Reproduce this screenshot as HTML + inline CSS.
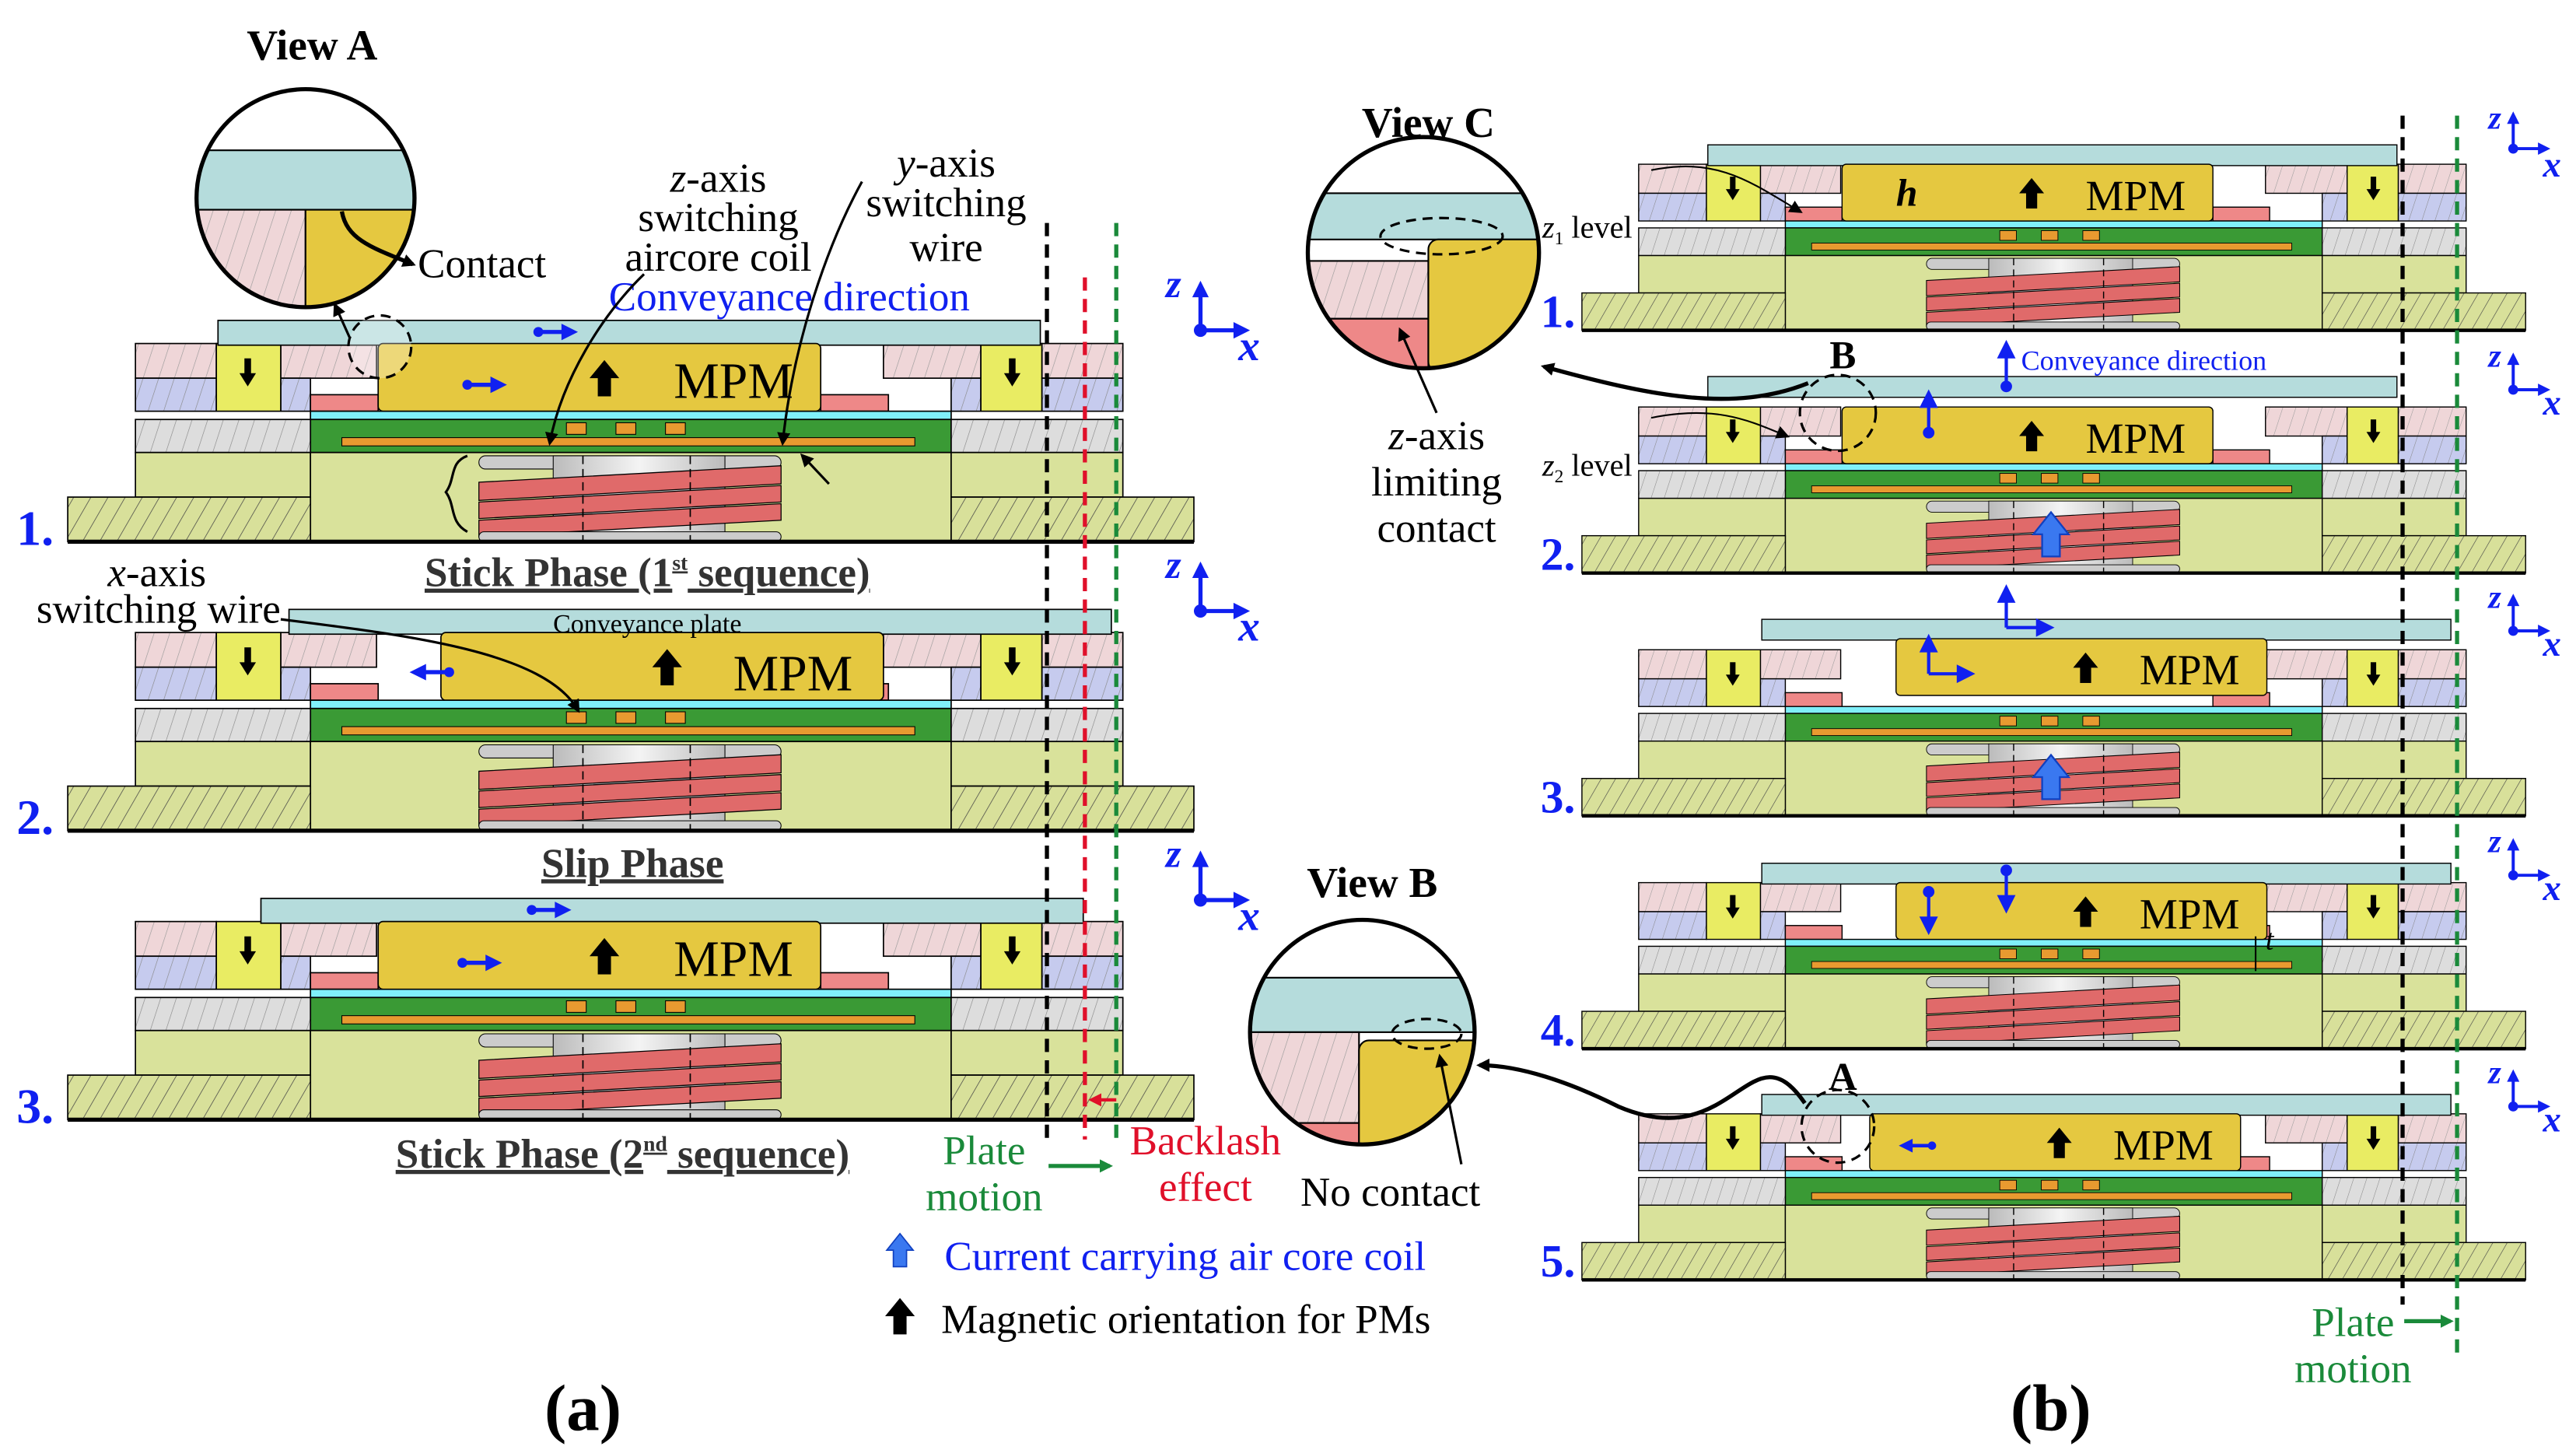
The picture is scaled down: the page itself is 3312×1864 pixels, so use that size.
<!DOCTYPE html>
<html><head><meta charset="utf-8"><style>
html,body{margin:0;padding:0;background:#fff}
svg{display:block}
svg, svg text{font-family:"Liberation Serif","Times New Roman",serif}
</style></head><body>
<svg width="3312" height="1864" viewBox="0 0 1560 878" xmlns="http://www.w3.org/2000/svg" font-family="Liberation Serif, serif">
<defs>
<pattern id="hp" width="9" height="9" patternUnits="userSpaceOnUse" patternTransform="rotate(18)"><rect width="9" height="9" fill="#efd6d8"/><line x1="0" y1="0" x2="0" y2="9" stroke="#999" stroke-width="0.6"/></pattern>
<pattern id="hb" width="9" height="9" patternUnits="userSpaceOnUse" patternTransform="rotate(18)"><rect width="9" height="9" fill="#c6cbee"/><line x1="0" y1="0" x2="0" y2="9" stroke="#888" stroke-width="0.6"/></pattern>
<pattern id="hg" width="9" height="9" patternUnits="userSpaceOnUse" patternTransform="rotate(18)"><rect width="9" height="9" fill="#dddddd"/><line x1="0" y1="0" x2="0" y2="9" stroke="#888" stroke-width="0.6"/></pattern>
<pattern id="ho" width="9" height="9" patternUnits="userSpaceOnUse" patternTransform="rotate(30)"><rect width="9" height="9" fill="#d8e09a"/><line x1="0" y1="0" x2="0" y2="9" stroke="#444" stroke-width="0.7"/></pattern>
<linearGradient id="cg" x1="0" x2="1"><stop offset="0" stop-color="#bbb"/><stop offset="0.5" stop-color="#f4f4f4"/><stop offset="1" stop-color="#bbb"/></linearGradient>
<marker id="ah" markerWidth="8" markerHeight="8" refX="6" refY="4" orient="auto" markerUnits="userSpaceOnUse"><path d="M0,0 L8,4 L0,8 Z" fill="#000"/></marker>
<marker id="ag" markerWidth="8" markerHeight="8" refX="6" refY="4" orient="auto" markerUnits="userSpaceOnUse"><path d="M0,0 L8,4 L0,8 Z" fill="#1a8a3a"/></marker>
<marker id="ar" markerWidth="8" markerHeight="8" refX="6" refY="4" orient="auto" markerUnits="userSpaceOnUse"><path d="M0,0 L8,4 L0,8 Z" fill="#e0102a"/></marker>
<g id="dn"><rect x="-2" y="-9" width="4" height="10" fill="#000"/><path d="M-5,0 L5,0 L0,8 Z" fill="#000"/></g>
<g id="up"><path d="M-9,0 L0,-11 L9,0 Z" fill="#000"/><rect x="-4" y="-1" width="8" height="12" fill="#000"/></g>
<g id="base" stroke="#000" stroke-width="0.8">
<rect x="82" y="208" width="49" height="21" fill="url(#hp)"/>
<rect x="170" y="208" width="58" height="21" fill="url(#hp)"/>
<rect x="82" y="229" width="49" height="20" fill="url(#hb)"/>
<rect x="170" y="229" width="18" height="20" fill="url(#hb)"/>
<rect x="131" y="208" width="39" height="41" fill="#e9ec63"/>
<use href="#dn" x="150" y="226" stroke="none"/>
<rect x="188" y="239" width="41" height="10" fill="#ee8888"/>
<rect x="535" y="208" width="59" height="21" fill="url(#hp)"/>
<rect x="497" y="239" width="41" height="10" fill="#ee8888"/>
<rect x="576" y="229" width="18" height="20" fill="url(#hb)"/>
<rect x="594" y="208" width="37" height="41" fill="#e9ec63"/>
<use href="#dn" x="613" y="226" stroke="none"/>
<rect x="631" y="208" width="49" height="21" fill="url(#hp)"/>
<rect x="631" y="229" width="49" height="20" fill="url(#hb)"/>
<rect x="188" y="249" width="388" height="5" fill="#80f0fa"/>
<rect x="188" y="254" width="388" height="20" fill="#3a9a35"/>
<rect x="207" y="265" width="347" height="5" fill="#e89a30" stroke-width="0.5"/>
<rect x="343" y="256" width="12" height="7" fill="#e89a30" stroke-width="0.5"/>
<rect x="373" y="256" width="12" height="7" fill="#e89a30" stroke-width="0.5"/>
<rect x="403" y="256" width="12" height="7" fill="#e89a30" stroke-width="0.5"/>
<rect x="82" y="254" width="106" height="20" fill="url(#hg)"/>
<rect x="576" y="254" width="104" height="20" fill="url(#hg)"/>
<rect x="82" y="274" width="106" height="27" fill="#d9e29b"/>
<rect x="188" y="274" width="388" height="54" fill="#d9e29b"/>
<rect x="576" y="274" width="104" height="27" fill="#d9e29b"/>
<rect x="41" y="301" width="147" height="27" fill="url(#ho)"/>
<rect x="576" y="301" width="147" height="27" fill="url(#ho)"/>
<rect x="290" y="276" width="183" height="8" rx="4" fill="#ccc" stroke-width="0.5"/>
<rect x="335" y="276" width="104" height="52" fill="url(#cg)" stroke-width="0.5"/>
<g fill="#e06a6a" stroke-width="0.6">
<path d="M290,292 L473,282 L473,293 L290,303 Z"/>
<path d="M290,304 L473,294 L473,304 L290,314 Z"/>
<path d="M290,315 L473,305 L473,315 L290,325 Z"/>
</g>
<rect x="290" y="322" width="183" height="6" rx="3" fill="#ccc" stroke-width="0.5"/>
<line x1="353" y1="276" x2="353" y2="328" stroke-dasharray="5,3"/>
<line x1="418" y1="276" x2="418" y2="328" stroke-dasharray="5,3"/>
<line x1="41" y1="328" x2="723" y2="328" stroke-width="2.5"/>
</g>
<rect id="plate" x="132" y="194" width="498" height="15" fill="#b5dcdc" stroke="#000" stroke-width="0.8"/>
<g id="mpm"><rect x="229" y="208" width="268" height="41" rx="3" fill="#e5c840" stroke="#000" stroke-width="0.8"/><use href="#up" x="366" y="229"/></g>
<g id="bar"><line x1="0" y1="0" x2="16" y2="0" stroke="#1020f0" stroke-width="2.5"/><path d="M14,-5 L24,0 L14,5 Z" fill="#1020f0"/><circle cx="0" cy="0" r="3" fill="#1020f0"/></g>
<g id="axes"><line x1="0" y1="0" x2="0" y2="-24" stroke="#1020f0" stroke-width="2.5"/><path d="M-5,-20 L0,-30 L5,-20 Z" fill="#1020f0"/><line x1="0" y1="0" x2="24" y2="0" stroke="#1020f0" stroke-width="2.5"/><path d="M20,-5 L30,0 L20,5 Z" fill="#1020f0"/><circle r="4" fill="#1020f0"/></g>
<g id="bcoil"><path d="M-8,0 L0,-10 L8,0 L4,0 L4,10 L-4,10 L-4,0 Z" fill="#3a78f0" stroke="#1040c0" stroke-width="0.8"/></g>
</defs>

<!-- LEFT ROW 1 -->
<g>
<use href="#base"/><use href="#plate"/><use href="#mpm"/>
<text x="408" y="241" font-size="31">MPM</text>
<use href="#bar" x="283" y="233"/><use href="#bar" x="326" y="201"/>
</g>
<!-- LEFT ROW 2 -->
<g transform="translate(0,175)">
<use href="#base"/><use href="#plate" x="43"/><use href="#mpm" x="38"/>
<text x="444" y="243" font-size="31">MPM</text>
<g transform="translate(272,232) scale(-1,1)"><use href="#bar"/></g>
</g>
<!-- LEFT ROW 3 -->
<g transform="translate(0,350)">
<use href="#base"/><use href="#plate" x="26"/><use href="#mpm"/>
<text x="408" y="241" font-size="31">MPM</text>
<use href="#bar" x="280" y="233"/><use href="#bar" x="322" y="201"/>
</g>

<!-- dashed lines (a) on top -->
<line x1="634" y1="135" x2="634" y2="690" stroke="#000" stroke-width="2.5" stroke-dasharray="8,5"/>
<line x1="657" y1="168" x2="657" y2="690" stroke="#e0102a" stroke-width="2.5" stroke-dasharray="8,5"/>
<line x1="676" y1="135" x2="676" y2="690" stroke="#1a8a3a" stroke-width="2.5" stroke-dasharray="8,5"/>

<text x="10" y="330" font-size="30" font-weight="bold" fill="#1020f0">1.</text>
<text x="10" y="505" font-size="30" font-weight="bold" fill="#1020f0">2.</text>
<text x="10" y="680" font-size="30" font-weight="bold" fill="#1020f0">3.</text>

<text x="392" y="355" font-size="25" font-weight="bold" text-anchor="middle" text-decoration="underline" fill="#333">Stick Phase (1<tspan font-size="13" dy="-10">st</tspan><tspan dy="10"> sequence)</tspan></text>
<text x="383" y="531" font-size="25" font-weight="bold" text-anchor="middle" text-decoration="underline" fill="#333">Slip Phase</text>
<text x="377" y="707" font-size="25" font-weight="bold" text-anchor="middle" text-decoration="underline" fill="#333">Stick Phase (2<tspan font-size="13" dy="-10">nd</tspan><tspan dy="10"> sequence)</tspan></text>
<text x="392" y="383" font-size="16" text-anchor="middle">Conveyance plate</text>

<!-- axes (a) -->
<use href="#axes" x="727" y="200"/><text x="706" y="180" font-size="24" font-style="italic" font-weight="bold" fill="#1020f0">z</text><text x="750" y="218" font-size="26" font-style="italic" font-weight="bold" fill="#1020f0">x</text>
<use href="#axes" x="727" y="370"/><text x="706" y="350" font-size="24" font-style="italic" font-weight="bold" fill="#1020f0">z</text><text x="750" y="388" font-size="26" font-style="italic" font-weight="bold" fill="#1020f0">x</text>
<use href="#axes" x="727" y="545"/><text x="706" y="525" font-size="24" font-style="italic" font-weight="bold" fill="#1020f0">z</text><text x="750" y="563" font-size="26" font-style="italic" font-weight="bold" fill="#1020f0">x</text>

<!-- View A -->
<text x="189" y="36" font-size="26" font-weight="bold" text-anchor="middle">View A</text>
<clipPath id="ca"><circle cx="185" cy="120" r="66"/></clipPath>
<g clip-path="url(#ca)">
<rect x="110" y="50" width="150" height="140" fill="#fff"/>
<rect x="110" y="91" width="150" height="36" fill="#b5dcdc" stroke="#000"/>
<rect x="110" y="127" width="75" height="70" fill="url(#hp)" stroke="#000"/>
<rect x="185" y="127" width="80" height="70" fill="#e5c840" stroke="#000"/>
</g>
<circle cx="185" cy="120" r="66" fill="none" stroke="#000" stroke-width="2.5"/>
<path d="M207,128 C210,145 225,150 250,160" fill="none" stroke="#000" stroke-width="2.5" marker-end="url(#ah)"/>
<text x="253" y="168" font-size="25">Contact</text>
<circle cx="230" cy="210" r="19" fill="rgba(255,255,255,0.3)" stroke="#000" stroke-width="1.5" stroke-dasharray="6,4"/>
<line x1="212" y1="205" x2="203" y2="185" stroke="#000" stroke-width="1.5" marker-end="url(#ah)"/>

<text x="435" y="116" font-size="25" text-anchor="middle"><tspan font-style="italic">z</tspan>-axis</text>
<text x="435" y="140" font-size="25" text-anchor="middle">switching</text>
<text x="435" y="164" font-size="25" text-anchor="middle">aircore coil</text>
<text x="573" y="107" font-size="25" text-anchor="middle"><tspan font-style="italic">y</tspan>-axis</text>
<text x="573" y="131" font-size="25" text-anchor="middle">switching</text>
<text x="573" y="158" font-size="25" text-anchor="middle">wire</text>
<text x="478" y="188" font-size="25" text-anchor="middle" fill="#1020f0">Conveyance direction</text>
<path d="M390,166 C365,190 340,230 333,268" fill="none" stroke="#000" stroke-width="1.5" marker-end="url(#ah)"/>
<path d="M522,110 C500,150 480,210 474,268" fill="none" stroke="#000" stroke-width="1.5" marker-end="url(#ah)"/>
<line x1="502" y1="293" x2="486" y2="276" stroke="#000" stroke-width="1.5" marker-end="url(#ah)"/>
<path d="M283,276 C272,280 276,290 270,298 C276,306 272,316 283,322" fill="none" stroke="#000" stroke-width="1.5"/>

<text x="95" y="355" font-size="25" text-anchor="middle"><tspan font-style="italic">x</tspan>-axis</text>
<text x="96" y="377" font-size="25" text-anchor="middle">switching wire</text>
<path d="M170,375 C250,385 330,395 350,430" fill="none" stroke="#000" stroke-width="1.5" marker-end="url(#ah)"/>

<!-- plate motion / backlash -->
<text x="596" y="705" font-size="25" text-anchor="middle" fill="#1a8a3a">Plate</text>
<text x="596" y="733" font-size="25" text-anchor="middle" fill="#1a8a3a">motion</text>
<line x1="635" y1="706" x2="672" y2="706" stroke="#1a8a3a" stroke-width="2.5" marker-end="url(#ag)"/>
<line x1="676" y1="666" x2="661" y2="666" stroke="#e0102a" stroke-width="2" marker-end="url(#ar)"/>
<text x="730" y="699" font-size="25" text-anchor="middle" fill="#e0102a">Backlash</text>
<text x="730" y="727" font-size="25" text-anchor="middle" fill="#e0102a">effect</text>

<use href="#bcoil" x="545" y="757"/>
<text x="572" y="769" font-size="25" fill="#1020f0">Current carrying air core coil</text>
<use href="#up" x="545" y="797"/>
<text x="570" y="807" font-size="25">Magnetic orientation for PMs</text>

<text x="353" y="866" font-size="40" font-weight="bold" text-anchor="middle">(a)</text>
<text x="1242" y="866" font-size="40" font-weight="bold" text-anchor="middle">(b)</text>

<!-- RIGHT ROWS -->
<g transform="translate(958,200) scale(0.838) translate(-41,-328)">
<use href="#base"/><use href="#plate"/><use href="#mpm"/>
<text x="405" y="241" font-size="31">MPM</text>
<text x="268" y="238" font-size="28" font-style="italic" font-weight="bold">h</text>
</g>
<g transform="translate(958,347) scale(0.838) translate(-41,-328)">
<use href="#base"/><use href="#plate" y="-8"/><use href="#mpm"/>
<text x="405" y="241" font-size="31">MPM</text>
<use href="#bcoil" transform="translate(380,300) scale(1.6)"/>
</g>
<g transform="translate(958,494) scale(0.838) translate(-41,-328)">
<use href="#base"/><use href="#plate" x="39" y="-8"/><use href="#mpm" x="39" y="-8"/>
<text x="444" y="233" font-size="31">MPM</text>
<use href="#bcoil" transform="translate(380,300) scale(1.6)"/>
</g>
<g transform="translate(958,635) scale(0.838) translate(-41,-328)">
<use href="#base"/><use href="#plate" x="39"/><use href="#mpm" x="39"/>
<text x="444" y="241" font-size="31">MPM</text>
</g>
<g transform="translate(958,775) scale(0.838) translate(-41,-328)">
<use href="#base"/><use href="#plate" x="39"/><use href="#mpm" x="20"/>
<text x="425" y="241" font-size="31">MPM</text>
<g transform="translate(294,231) scale(-1,1)"><use href="#bar"/></g>
</g>

<!-- dashed lines (b) on top -->
<line x1="1455" y1="70" x2="1455" y2="790" stroke="#000" stroke-width="2.5" stroke-dasharray="8,5"/>
<line x1="1488" y1="70" x2="1488" y2="820" stroke="#1a8a3a" stroke-width="2.5" stroke-dasharray="8,5"/>

<text x="933" y="198" font-size="28" font-weight="bold" fill="#1020f0">1.</text>
<text x="933" y="345" font-size="28" font-weight="bold" fill="#1020f0">2.</text>
<text x="933" y="492" font-size="28" font-weight="bold" fill="#1020f0">3.</text>
<text x="933" y="633" font-size="28" font-weight="bold" fill="#1020f0">4.</text>
<text x="933" y="773" font-size="28" font-weight="bold" fill="#1020f0">5.</text>

<g font-size="19"><text x="934" y="144"><tspan font-style="italic">z</tspan><tspan font-size="11" dy="4">1</tspan><tspan dy="-4"> level</tspan></text>
<text x="934" y="288"><tspan font-style="italic">z</tspan><tspan font-size="11" dy="4">2</tspan><tspan dy="-4"> level</tspan></text></g>
<path d="M1000,103 C1040,95 1060,110 1090,128" fill="none" stroke="#000" stroke-width="1" marker-end="url(#ah)"/>
<path d="M1000,253 C1040,245 1060,255 1082,264" fill="none" stroke="#000" stroke-width="1" marker-end="url(#ah)"/>

<!-- blue arrows right -->
<g stroke="#1020f0" stroke-width="2" fill="#1020f0">
<line x1="1215" y1="234" x2="1215" y2="214"/><path d="M1211,216 L1215,208 L1219,216Z"/><circle cx="1215" cy="234" r="2.5"/>
<line x1="1168" y1="262" x2="1168" y2="244"/><path d="M1164,246 L1168,238 L1172,246Z"/><circle cx="1168" cy="262" r="2.5"/>
<line x1="1215" y1="380" x2="1215" y2="362"/><path d="M1211,364 L1215,356 L1219,364Z"/><line x1="1215" y1="380" x2="1236" y2="380"/><path d="M1234,376 L1242,380 L1234,384Z"/>
<line x1="1168" y1="408" x2="1168" y2="392"/><path d="M1164,394 L1168,386 L1172,394Z"/><line x1="1168" y1="408" x2="1188" y2="408"/><path d="M1186,404 L1194,408 L1186,412Z"/>
<line x1="1215" y1="527" x2="1215" y2="545"/><path d="M1211,543 L1215,551 L1219,543Z"/><circle cx="1215" cy="527" r="2.5"/>
<line x1="1168" y1="540" x2="1168" y2="558"/><path d="M1164,556 L1168,564 L1172,556Z"/><circle cx="1168" cy="540" r="2.5"/>
</g>
<text x="1224" y="224" font-size="17" fill="#1020f0">Conveyance direction</text>
<text x="1372" y="575" font-size="18" font-style="italic">t</text>
<line x1="1366" y1="567" x2="1366" y2="588" stroke="#000"/>

<!-- axes (b) -->
<g font-style="italic" font-weight="bold" fill="#1020f0">
<use href="#axes" transform="translate(1522,90) scale(0.75)"/><text x="1507" y="78" font-size="20">z</text><text x="1540" y="107" font-size="22">x</text>
<use href="#axes" transform="translate(1522,236) scale(0.75)"/><text x="1507" y="222" font-size="20">z</text><text x="1540" y="251" font-size="22">x</text>
<use href="#axes" transform="translate(1522,382) scale(0.75)"/><text x="1507" y="368" font-size="20">z</text><text x="1540" y="397" font-size="22">x</text>
<use href="#axes" transform="translate(1522,530) scale(0.75)"/><text x="1507" y="516" font-size="20">z</text><text x="1540" y="545" font-size="22">x</text>
<use href="#axes" transform="translate(1522,670) scale(0.75)"/><text x="1507" y="656" font-size="20">z</text><text x="1540" y="685" font-size="22">x</text>
</g>

<!-- View C -->
<text x="865" y="83" font-size="26" font-weight="bold" text-anchor="middle">View C</text>
<clipPath id="cc"><circle cx="862" cy="153" r="70"/></clipPath>
<g clip-path="url(#cc)">
<rect x="790" y="80" width="145" height="150" fill="#fff"/>
<rect x="790" y="117" width="145" height="28" fill="#b5dcdc" stroke="#000"/>
<rect x="790" y="158" width="75" height="35" fill="url(#hp)" stroke="#000"/>
<rect x="790" y="193" width="75" height="30" fill="#ee8888" stroke="#000"/>
<rect x="865" y="145" width="75" height="80" rx="6" fill="#e5c840" stroke="#000"/>
</g>
<circle cx="862" cy="153" r="70" fill="none" stroke="#000" stroke-width="2.5"/>
<ellipse cx="873" cy="143" rx="37" ry="11" fill="none" stroke="#000" stroke-width="1.5" stroke-dasharray="6,4"/>
<line x1="870" y1="250" x2="848" y2="200" stroke="#000" stroke-width="1.5" marker-end="url(#ah)"/>
<text x="870" y="272" font-size="25" text-anchor="middle"><tspan font-style="italic">z</tspan>-axis</text>
<text x="870" y="300" font-size="25" text-anchor="middle">limiting</text>
<text x="870" y="328" font-size="25" text-anchor="middle">contact</text>
<circle cx="1113" cy="250" r="23" fill="none" stroke="#000" stroke-width="1.5" stroke-dasharray="6,4"/>
<text x="1116" y="223" font-size="24" font-weight="bold" text-anchor="middle">B</text>
<path d="M1095,232 C1050,250 1000,240 935,222" fill="none" stroke="#000" stroke-width="2.5" marker-end="url(#ah)"/>

<!-- View B -->
<text x="831" y="543" font-size="26" font-weight="bold" text-anchor="middle">View B</text>
<clipPath id="cb"><circle cx="825" cy="625" r="68"/></clipPath>
<g clip-path="url(#cb)">
<rect x="755" y="555" width="145" height="145" fill="#fff"/>
<rect x="755" y="592" width="145" height="33" fill="#b5dcdc" stroke="#000"/>
<rect x="755" y="625" width="68" height="55" fill="url(#hp)" stroke="#000"/>
<rect x="755" y="680" width="68" height="20" fill="#ee8888" stroke="#000"/>
<rect x="823" y="630" width="80" height="80" rx="6" fill="#e5c840" stroke="#000"/>
</g>
<circle cx="825" cy="625" r="68" fill="none" stroke="#000" stroke-width="2.5"/>
<ellipse cx="864" cy="626" rx="21" ry="9" fill="none" stroke="#000" stroke-width="1.5" stroke-dasharray="6,4"/>
<line x1="885" y1="705" x2="872" y2="640" stroke="#000" stroke-width="1.5" marker-end="url(#ah)"/>
<text x="842" y="730" font-size="25" text-anchor="middle">No contact</text>
<circle cx="1113" cy="682" r="22" fill="none" stroke="#000" stroke-width="1.5" stroke-dasharray="6,4"/>
<text x="1116" y="660" font-size="24" font-weight="bold" text-anchor="middle">A</text>
<path d="M1093,668 C1060,620 1050,700 980,670 C950,655 920,645 896,645" fill="none" stroke="#000" stroke-width="2.5" marker-end="url(#ah)"/>

<text x="1425" y="809" font-size="25" text-anchor="middle" fill="#1a8a3a">Plate</text>
<text x="1425" y="837" font-size="25" text-anchor="middle" fill="#1a8a3a">motion</text>
<line x1="1456" y1="800" x2="1484" y2="800" stroke="#1a8a3a" stroke-width="2.5" marker-end="url(#ag)"/>
</svg>
</body></html>
